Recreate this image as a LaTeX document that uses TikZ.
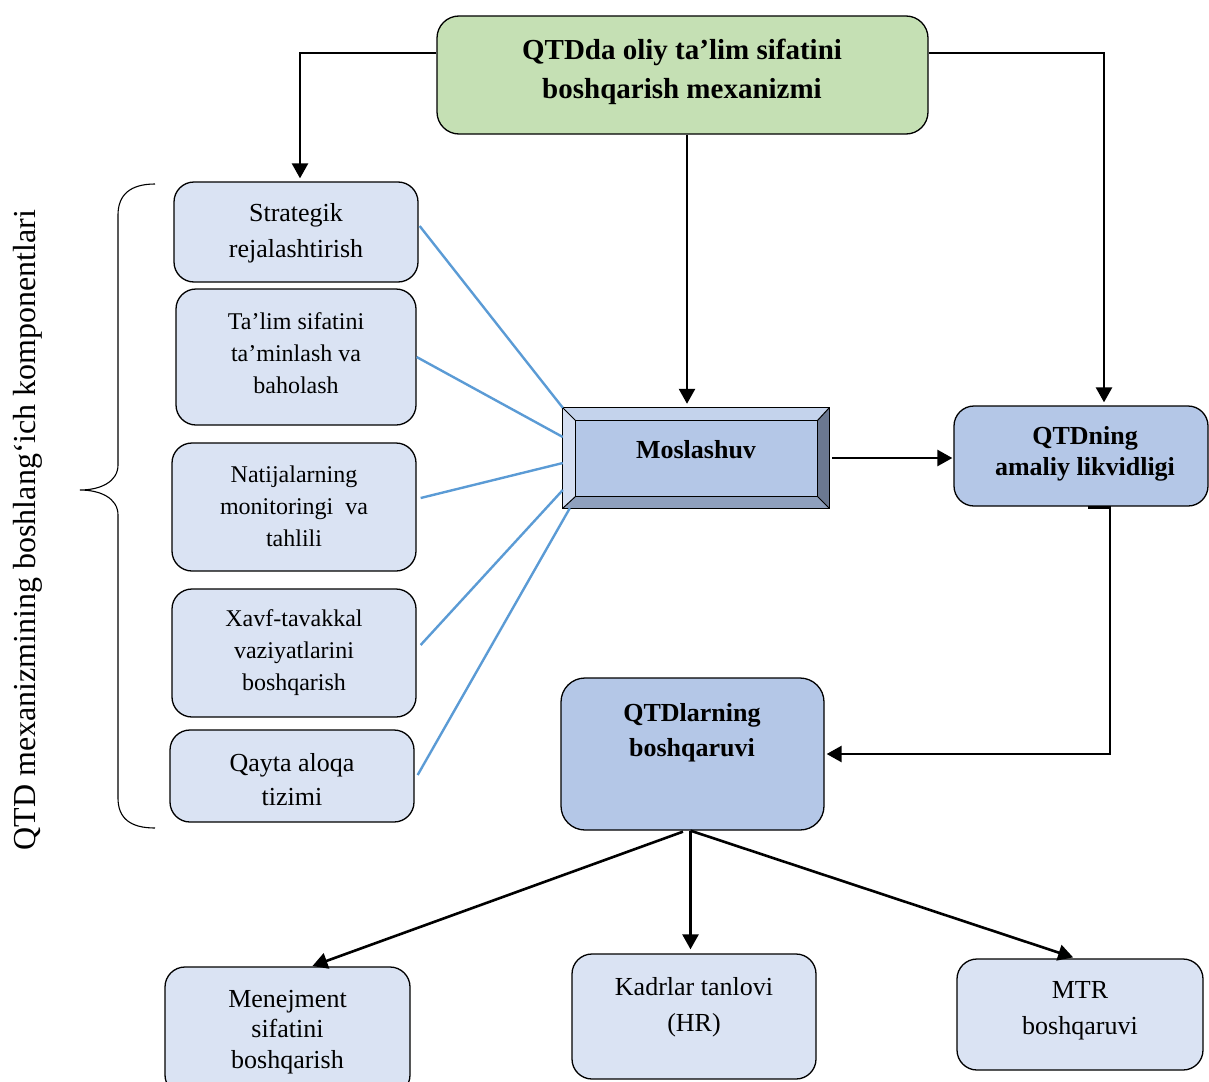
\documentclass[tikz,border=0pt]{standalone}
\usepackage{fontspec}
\setmainfont{Liberation Serif}
\usetikzlibrary{arrows.meta,calc}
\definecolor{topgreen}{HTML}{C5E0B4}
\definecolor{lightbox}{HTML}{DAE3F3}
\definecolor{midbox}{HTML}{B4C7E7}
\definecolor{lineblue}{HTML}{5B9BD5}
\definecolor{bevtop}{HTML}{C4D3EC}
\definecolor{bevleft}{HTML}{D5DFF2}
\definecolor{bevbottom}{HTML}{8FA0BD}
\definecolor{bevright}{HTML}{6B7891}
\begin{document}
\begin{tikzpicture}[x=1pt,y=-1pt,
  box/.style={draw=black, line width=1.3pt, rounded corners=20pt, fill=lightbox, inner sep=0pt},
  txt/.style={align=center, inner sep=0pt},
  conn/.style={draw=black, line width=2.6pt, -{Triangle[length=15pt,width=16pt]}},
  bline/.style={draw=lineblue, line width=2.4pt},
  fa/.style={font=\fontsize{26}{36}\selectfont},
  fb/.style={font=\fontsize{24}{32}\selectfont},
  fbold/.style={font=\fontsize{26}{31}\selectfont\bfseries}]
\useasboundingbox (0,0) rectangle (1209,1081);
\clip (0,0) rectangle (1209,1081);

% top box
\node[box, fill=topgreen, rounded corners=22pt, minimum width=491pt, minimum height=118pt] (top) at (682.5,75) {};
\node[txt, font=\fontsize{29}{39}\selectfont\bfseries] (topT) at (682,72) {QTDda oliy ta’lim sifatini\\boshqarish mexanizmi};

% left components
\node[box, minimum width=244pt, minimum height=100pt] (strat) at (296,232) {};
\node[txt, fa] (stratT) at (296,233) {Strategik\\rejalashtirish};

\node[box, minimum width=240pt, minimum height=136pt] (tal) at (296,357) {};
\node[txt, fb] (talT) at (296,353) {Ta’lim sifatini\\ta’minlash va\\baholash};

\node[box, minimum width=244pt, minimum height=128pt] (nat) at (294,507) {};
\node[txt, fb] (natT) at (294,506) {Natijalarning\\monitoringi\ \ va\\tahlili};

\node[box, minimum width=244pt, minimum height=128pt] (xavf) at (294,653) {};
\node[txt, fb] (xavfT) at (294,653) {Xavf-tavakkal\\vaziyatlarini\\boshqarish};

\node[box, minimum width=244pt, minimum height=92pt] (qay) at (292,776) {};
\node[txt, font=\fontsize{26}{34}\selectfont] (qayT) at (292,780) {Qayta aloqa\\tizimi};

% Moslashuv bevel box
\node[inner sep=0pt, minimum width=266pt, minimum height=100pt] (mos) at (696,458) {};
\fill[midbox] (mos.north west) rectangle (mos.south east);
\fill[bevtop] (mos.north west) -- (mos.north east) -- ($(mos.north east)+(-12,13)$) -- ($(mos.north west)+(13,13)$) -- cycle;
\fill[bevleft] (mos.north west) -- ($(mos.north west)+(13,13)$) -- ($(mos.south west)+(13,-12)$) -- (mos.south west) -- cycle;
\fill[bevbottom] (mos.south west) -- ($(mos.south west)+(13,-12)$) -- ($(mos.south east)+(-12,-12)$) -- (mos.south east) -- cycle;
\fill[bevright] (mos.north east) -- ($(mos.north east)+(-12,13)$) -- ($(mos.south east)+(-12,-12)$) -- (mos.south east) -- cycle;
\draw[line width=1.2pt] (mos.north west) rectangle (mos.south east);
\draw[line width=1.2pt] ($(mos.north west)+(13,13)$) rectangle ($(mos.south east)+(-12,-12)$);
\draw[line width=1pt] (mos.north west) -- ++(13,13);
\draw[line width=1pt] (mos.north east) -- ++(-12,13);
\draw[line width=1pt] (mos.south west) -- ++(13,-12);
\draw[line width=1pt] (mos.south east) -- ++(-12,-12);
\node[txt, fbold] (mosT) at (696,450) {Moslashuv};

% right box
\node[box, fill=midbox, minimum width=254pt, minimum height=100pt] (liq) at (1081,456) {};
\node[txt, fbold] (liqT) at (1085,454) {QTDning\\amaliy likvidligi};

% governance box
\node[box, fill=midbox, rounded corners=24pt, minimum width=263pt, minimum height=152pt] (gov) at (692.5,754) {};
\node[txt, font=\fontsize{26}{35}\selectfont\bfseries] (govT) at (692,732.5) {QTDlarning\\boshqaruvi};

% bottom boxes
\node[box, minimum width=245pt, minimum height=128pt] (men) at (287.5,1031) {};
\node[txt, font=\fontsize{26}{30.5}\selectfont] (menT) at (287.5,1032) {Menejment\\sifatini\\boshqarish};

\node[box, minimum width=244pt, minimum height=125pt] (kad) at (694,1016.5) {};
\node[txt, fa] (kadT) at (694,1007) {Kadrlar tanlovi\\(HR)};

\node[box, minimum width=246pt, minimum height=111pt] (mtr) at (1080,1014.5) {};
\node[txt, fa] (mtrT) at (1080,1011) {MTR\\boshqaruvi};

% connectors
\draw[conn, shorten >=3pt] ([yshift=22pt]top.west) -| ([xshift=4pt]strat.north);
\draw[conn, shorten >=3pt] ([yshift=22pt]top.east) -| ([xshift=23pt]liq.north);
\draw[conn, shorten >=4pt] ([xshift=4.5pt]top.south) -- ([xshift=4.5pt]top.south |- mos.north);
\draw[conn, shorten >=1pt] ([xshift=3pt]mos.east) -- (mos.east -| liq.west);
\draw[conn] ([xshift=7pt,yshift=-1pt]liq.south) -- ++(22,0) |- ([xshift=2pt]gov.east);
\draw[conn, shorten >=1pt] ([xshift=-9.5pt,yshift=-1pt]gov.south) -- ([xshift=24pt]men.north);
\draw[conn, shorten >=4pt] ([xshift=-2pt]gov.south) -- ([xshift=-2pt]gov.south |- kad.north);
\draw[conn, shorten >=3pt] ([xshift=-2pt]gov.south) -- ([xshift=-4pt]mtr.north);

% blue lines
\draw[bline] ([xshift=1pt,yshift=6pt]strat.east) -- (mos.north west);
\draw[bline] (tal.east) -- ([yshift=21pt]mos.west);
\draw[bline] ([xshift=4pt,yshift=9pt]nat.east) -- ([yshift=-5pt]mos.west);
\draw[bline] ([xshift=4pt,yshift=8pt]xavf.east) -- ([yshift=-32pt]mos.west);
\draw[bline] ([xshift=3pt,yshift=1pt]qay.east) -- ([xshift=7pt]mos.south west);

% brace and label
\coordinate (bt) at (155,184);
\coordinate (bb) at (155,828);
\draw[line width=1.1pt] (bt) .. controls (130,184) and (118,195) .. (118,215) -- (118,465)
  .. controls (118,482) and (100,490) .. (80,490)
  .. controls (100,490) and (118,498) .. (118,515) -- (118,798)
  .. controls (118,818) and (130,828) .. (bb);
\node[txt, rotate=90, font=\fontsize{32}{36}\selectfont] (lbl) at (28,530) {QTD mexanizmining boshlang‘ich komponentlari};
\end{tikzpicture}
\end{document}
